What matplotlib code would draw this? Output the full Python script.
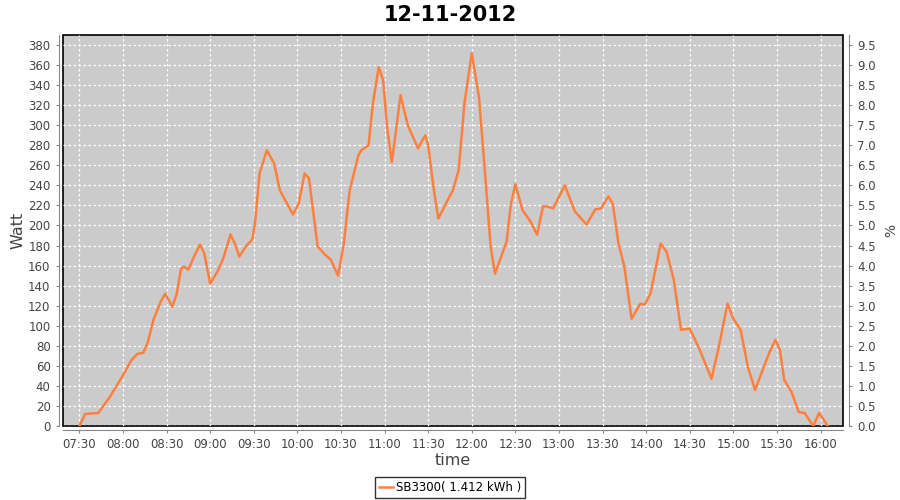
import matplotlib
matplotlib.use("Agg")
import matplotlib.pyplot as plt
import matplotlib.dates as mdates
import matplotlib.ticker as mticker
import pandas as pd

# readings of SB3300 on 12-11-2012
times = ["07:30", "07:34", "07:43", "07:51", "07:59", "08:06", "08:10", "08:14",
         "08:17", "08:21", "08:26", "08:29", "08:34", "08:37", "08:40", "08:42",
         "08:45", "08:48", "08:53", "08:56", "09:00", "09:05", "09:09", "09:14",
         "09:17", "09:20", "09:25", "09:29", "09:31", "09:34", "09:39", "09:44",
         "09:48", "09:57", "10:01", "10:05", "10:08", "10:14", "10:19", "10:23",
         "10:28", "10:32", "10:36", "10:42", "10:44", "10:49", "10:52", "10:56",
         "10:59", "11:02", "11:05", "11:07", "11:11", "11:16", "11:23", "11:28",
         "11:30", "11:34", "11:37", "11:43", "11:47", "11:51", "11:55", "12:00",
         "12:05", "12:09", "12:13", "12:16", "12:21", "12:24", "12:27", "12:30",
         "12:35", "12:40", "12:45", "12:49", "12:52", "12:56", "13:04", "13:11",
         "13:19", "13:25", "13:29", "13:34", "13:37", "13:41", "13:45", "13:50",
         "13:56", "13:59", "14:03", "14:10", "14:14", "14:19", "14:24", "14:30",
         "14:36", "14:45", "14:50", "14:56", "15:00", "15:05", "15:10", "15:15",
         "15:21", "15:25", "15:29", "15:32", "15:35", "15:40", "15:45", "15:49",
         "15:55", "15:59", "16:05"]
watt = [0, 12, 13, 29, 48, 66, 72, 73,
        83, 106, 124, 132, 119, 132, 157, 159,
        156, 166, 181, 172, 142, 154, 167, 191,
        182, 169, 180, 186, 204, 252, 275, 262,
        235, 211, 222, 252, 247, 179, 171, 166,
        150, 182, 235, 270, 275, 280, 322, 358,
        345, 295, 263, 285, 330, 300, 277, 290,
        280, 235, 207, 224, 235, 255, 322, 372,
        328, 255, 179, 152, 172, 184, 222, 241,
        215, 205, 191, 219, 219, 217, 240, 214,
        201, 216, 217, 229, 222, 182, 159, 107,
        122, 121, 132, 182, 174, 146, 96, 97,
        79, 47, 79, 122, 107, 96, 59, 36,
        59, 74, 86, 76, 46, 34, 14, 13,
        0, 13, 0]
series_label = "SB3300( 1.412 kWh )"
title = "12-11-2012"

t = pd.to_datetime(["2012-11-12 " + s for s in times])

fig = plt.figure(figsize=(9, 5), dpi=100)
ax = fig.add_axes([0.07, 0.148, 0.867, 0.782])
ax.set_facecolor("#cbcbcb")
ax.patch.set_edgecolor("black")
ax.patch.set_linewidth(1.2)

line, = ax.plot(t, watt, color="#ff7f3f", lw=1.8, label=series_label,
                solid_joinstyle="round")

ax.set_xlim(pd.Timestamp("2012-11-12 07:18:45"), pd.Timestamp("2012-11-12 16:15:40"))
ax.set_ylim(0, 390)
ax.xaxis.set_major_locator(mdates.MinuteLocator(byminute=[0, 30]))
ax.xaxis.set_major_formatter(mdates.DateFormatter("%H:%M"))
ax.yaxis.set_major_locator(mticker.MultipleLocator(20))

ax.grid(True, color="white", ls=(0, (2, 2)), lw=0.9)
ax.set_axisbelow(True)

for s in ["top", "right"]:
    ax.spines[s].set_visible(False)
ax.spines["left"].set_position(("outward", 3))
ax.spines["bottom"].set_position(("outward", 3))
ax.spines["left"].set_color("#888888")
ax.spines["bottom"].set_color("#888888")
ax.tick_params(labelsize=8.5, labelcolor="#444444", color="#888888", length=2.5)

ax2 = ax.twinx()
ax2.set_ylim(0, 9.75)
ax2.yaxis.set_major_locator(mticker.MultipleLocator(0.5))
ax2.yaxis.set_major_formatter(mticker.FormatStrFormatter("%.1f"))
for s in ["top", "left", "bottom"]:
    ax2.spines[s].set_visible(False)
ax2.spines["right"].set_position(("outward", 4))
ax2.spines["right"].set_color("#888888")
ax2.tick_params(labelsize=8.5, labelcolor="#444444", color="#888888", length=2.5)

ax.set_ylabel("Watt", fontsize=11.5, color="#444444", labelpad=2)
ax.set_xlabel("time", fontsize=11.5, color="#444444", labelpad=1)
ax2.set_ylabel("%", fontsize=10, color="#444444", labelpad=6)

fig.suptitle(title, fontsize=15, fontweight="bold", y=0.99)

leg = fig.legend(handles=[line], loc="center", bbox_to_anchor=(0.5, 0.025),
                 fontsize=8.5, frameon=True, fancybox=False, handlelength=1.2,
                 borderpad=0.3, handletextpad=0.3)
leg.get_frame().set_edgecolor("black")
leg.get_frame().set_linewidth(1)

fig.savefig("out.png", dpi=100)
